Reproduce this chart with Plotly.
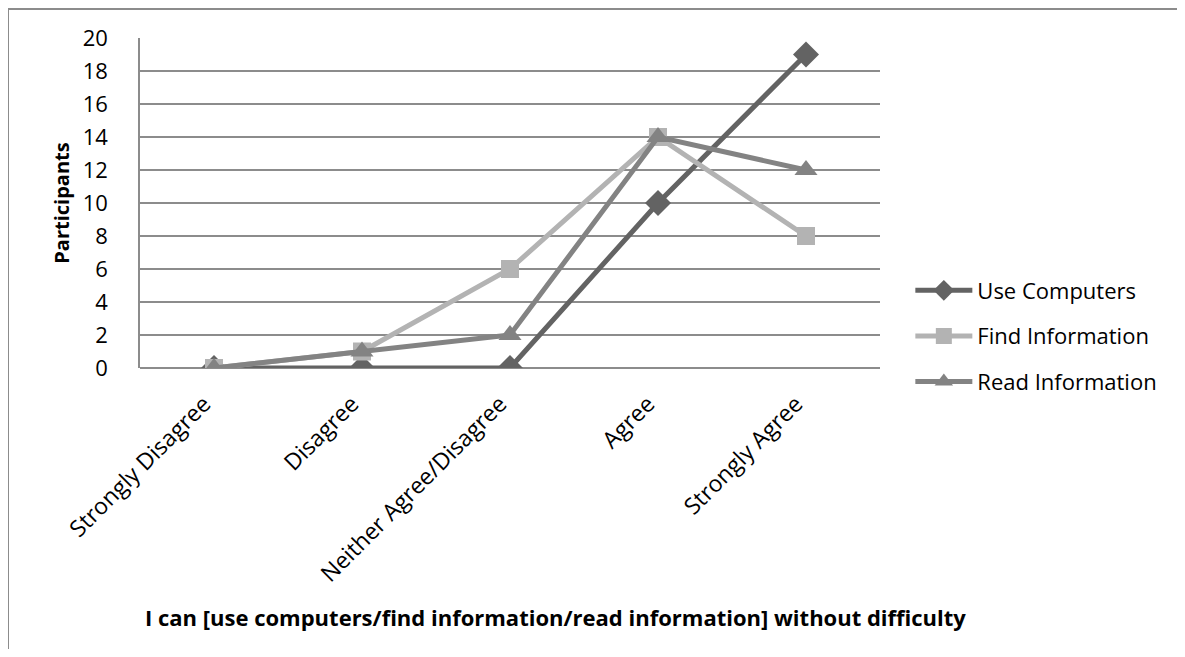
import plotly.graph_objects as go

categories = ["Strongly Disagree", "Disagree", "Neither Agree/Disagree", "Agree", "Strongly Agree"]
use_computers = [0, 0, 0, 10, 19]
find_information = [0, 1, 6, 14, 8]
read_information = [0, 1, 2, 14, 12]
y_ticks = list(range(0, 21, 2))

FONT = "Open Sans"

fig = go.Figure()
series = [
    ("Use Computers", use_computers, "#636363", "diamond", 20),
    ("Find Information", find_information, "#b3b3b3", "square", 18),
    ("Read Information", read_information, "#838383", "triangle-up", 20),
]
for i, (name, vals, col, sym, size) in enumerate(series):
    fig.add_trace(go.Scatter(
        x=categories, y=vals, name=name, mode="lines+markers",
        line=dict(color=col, width=5),
        marker=dict(symbol=sym, size=size, color=col),
        legendgroup=f"g{i}",
    ))

fig.update_layout(
    width=1169, height=641,
    margin=dict(l=132, r=297, t=30, b=281),
    paper_bgcolor="white", plot_bgcolor="white",
    font=dict(family=FONT, color="black", size=22),
    showlegend=True,
    legend=dict(
        x=1.041, y=0.097, xanchor="left", yanchor="middle",
        font=dict(family=FONT, size=22, color="black"),
        tracegroupgap=14, itemwidth=57, bgcolor="rgba(0,0,0,0)",
    ),
    xaxis=dict(
        type="category", categoryorder="array", categoryarray=categories,
        range=[-0.5, 4.5], tickangle=-45, showgrid=False,
        showline=False, ticks="", tickfont=dict(family=FONT, size=23),
        zeroline=False, ticklabelstandoff=17, ticklabelshift=-10,
    ),
    yaxis=dict(
        range=[0, 20], tickvals=y_ticks, showgrid=True, gridcolor="#8c8c8c",
        gridwidth=1.5, showline=True, linecolor="#8c8c8c", linewidth=1.5,
        zeroline=True, zerolinecolor="#8c8c8c", zerolinewidth=1.5,
        ticks="", tickfont=dict(family=FONT, size=22), ticklabelstandoff=26,
        title=dict(text="<b>Participants</b>", font=dict(family=FONT, size=20), standoff=8),
    ),
    annotations=[dict(
        text="<b>I can [use computers/find information/read information] without difficulty</b>",
        xref="paper", yref="paper", x=0.561, y=-0.7545, xanchor="center", yanchor="middle",
        showarrow=False, font=dict(family=FONT, size=22, color="black"),
    )],
    shapes=[dict(
        type="rect", xref="paper", yref="paper",
        x0=(0 - 132) / 740, x1=(1200 - 132) / 740,
        y0=(360 - 700) / 330, y1=(360 - 1) / 330,
        line=dict(color="#8c8c8c", width=2), fillcolor="rgba(0,0,0,0)", layer="below",
    )],
)

fig.write_html("out.html")
